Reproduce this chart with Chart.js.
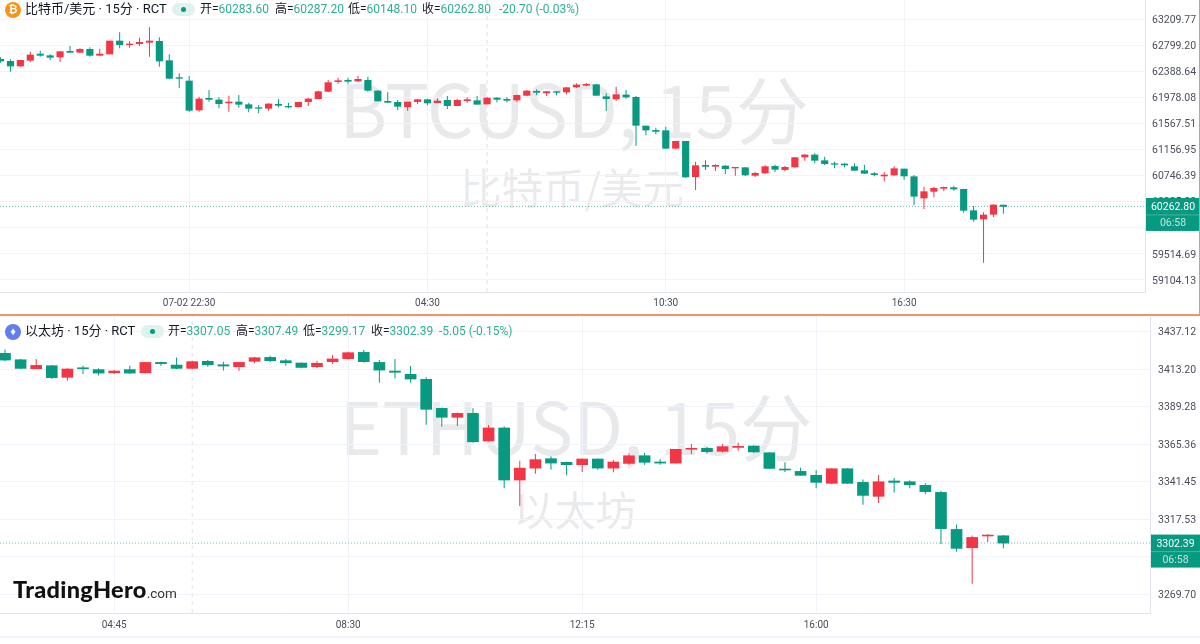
<!DOCTYPE html>
<html>
<head>
<meta charset="utf-8">
<script src="https://cdn.jsdelivr.net/npm/chart.js@4"></script>
<style>
html, body { margin: 0; padding: 0; background: #fff; width: 1200px; height: 644px; overflow: hidden; }
body { position: relative; font-family: Roboto, "Noto Sans CJK SC", sans-serif; color: #131722; }
canvas { position: absolute; left: 0; z-index: 2; }
#btc-chart { top: 0; }
#eth-chart { top: 316px; }
.wm { position: absolute; z-index: 1; color: rgba(120,123,134,0.17); white-space: nowrap; font-family: "Noto Sans CJK SC", sans-serif; transform: translate(-50%, -50%); line-height: 1; }
.head { position: absolute; left: 0; z-index: 3; height: 18px; line-height: 18px; white-space: nowrap; font-family: Roboto, "Noto Sans CJK SC", sans-serif; }
.head span { position: absolute; top: 0; }
.head b { font-weight: 400; color: #2fae97; }
.icon { position: absolute; left: 5px; top: 2px; width: 16px; height: 16px; border-radius: 8px; color: #fff; text-align: center; font: bold 11px/16px Roboto, sans-serif; }
.pill { position: absolute; top: 3px; height: 13px; width: 23px; border-radius: 7px; background: #dff3ee; }
.pill i { position: absolute; left: 9px; top: 4px; width: 5px; height: 5px; border-radius: 3px; background: #089981; }
.sep { position: absolute; z-index: 4; left: 0; width: 1200px; }
#logo { position: absolute; z-index: 3; left: 13px; top: 575px; font: 900 23.5px/28px Lato, sans-serif; color: #111; letter-spacing: 0.3px; }
#logo small { font: 400 13.5px Roboto, sans-serif; color: #333; letter-spacing: 0; }
</style>
</head>
<body>
<div class="wm" style="left:574px;top:106px;font-size:73px">BTCUSD, 15分</div>
<div class="wm" style="left:572px;top:187px;font-size:41.5px">比特币/美元</div>
<div class="wm" style="left:576px;top:424px;font-size:72.5px">ETHUSD, 15分</div>
<div class="wm" style="left:575px;top:508px;font-size:41px">以太坊</div>

<canvas id="btc-chart" width="1200" height="314"></canvas>
<canvas id="eth-chart" width="1200" height="321"></canvas>

<div class="head" style="top:0;font-size:12px">
  <div class="icon" style="background:#f7931a">₿</div>
  <span style="left:25px;font-size:13px">比特币/美元 · 15分 · RCT</span>
  <div class="pill" style="left:172px"><i></i></div>
  <span style="left:200px">开=<b>60283.60</b></span>
  <span style="left:275px">高=<b>60287.20</b></span>
  <span style="left:348px">低=<b>60148.10</b></span>
  <span style="left:422px">收=<b>60262.80</b></span>
  <span style="left:499px"><b>-20.70 (-0.03%)</b></span>
</div>
<div class="head" style="top:322px;font-size:12px">
  <div class="icon" style="background:#627eea">♦</div>
  <span style="left:25px;font-size:13px">以太坊 · 15分 · RCT</span>
  <div class="pill" style="left:141px"><i></i></div>
  <span style="left:168px">开=<b>3307.05</b></span>
  <span style="left:236px">高=<b>3307.49</b></span>
  <span style="left:303px">低=<b>3299.17</b></span>
  <span style="left:371px">收=<b>3302.39</b></span>
  <span style="left:439px"><b>-5.05 (-0.15%)</b></span>
</div>
<div id="logo">TradingHero<small>.com</small></div>

<div class="sep" style="top:314px;height:2px;background:#f4906c"></div>
<div class="sep" style="top:636px;height:2px;background:#f0f3fa"></div>
<div style="position:absolute;z-index:4;left:1199px;top:0;width:1px;height:314px;background:#f4906c"></div>

<script>
const btcOpen = [
  62579,62548,62474,62564,62663,62637,62616,62705,62690,62737,
  62642,62663,62868,62810,62826,62847,62863,62558,62291,62238,
  61781,61965,61939,61892,61907,61865,61818,61808,61871,61839,
  61834,61913,61960,62075,62228,62249,62238,62249,62081,61918,
  61902,61834,61913,61944,61897,61934,61850,61928,61928,61876,
  61970,61949,61939,62012,62075,62049,62070,62065,62144,62170,
  62180,61991,61955,62018,61981,61529,61461,61456,61178,61288,
  60731,60910,60894,60899,60868,60873,60752,60789,60894,60842,
  60884,61041,61073,60983,60936,60931,60889,60826,60779,60742,
  60758,60852,60731,60395,60500,60548,60558,60532,60196,60065,
  60138,60283.6
];
const btcHigh = [
  62611,62579,62569,62700,62716,62658,62711,62789,62753,62768,
  62742,62873,63005,62863,62921,63083,62926,62658,62359,62317,
  61991,62096,61981,62007,62018,61897,61860,61886,61955,61897,
  61907,61976,62086,62254,62291,62291,62322,62306,62091,62060,
  61939,61907,61955,61960,61965,62002,61960,61981,62002,61981,
  61981,61981,62023,62091,62107,62081,62081,62138,62201,62207,
  62191,62044,62149,62096,62002,61535,61503,61519,61293,61293,
  60968,60989,60926,60910,60878,60884,60805,60910,60920,60899,
  61041,61088,61099,61046,60968,60941,60941,60920,60800,60805,
  60894,60857,60758,60574,60574,60574,60584,60542,60269,60170,
  60296,60287.2
];
const btcLow = [
  62527,62385,62464,62537,62621,62569,62537,62684,62674,62621,
  62637,62658,62753,62763,62789,62621,62464,62264,62128,61755,
  61755,61913,61808,61755,61818,61745,61729,61771,61823,61808,
  61823,61844,61949,62060,62196,62196,62228,62070,61918,61892,
  61781,61771,61871,61855,61886,61797,61844,61897,61871,61871,
  61902,61902,61907,62002,62012,62002,62012,62028,62128,62154,
  62007,61766,61923,61960,61220,61382,61398,61167,61167,60716,
  60521,60836,60821,60773,60747,60742,60726,60779,60805,60815,
  60873,60983,60941,60915,60863,60878,60821,60773,60737,60658,
  60742,60684,60285,60222,60406,60500,60511,60164,60023,59377,
  60096,60148.1
];
const btcClose = [
  62553,62474,62564,62648,62642,62611,62700,62690,62737,62642,
  62663,62868,62810,62821,62847,62868,62553,62280,62280,61776,
  61955,61949,61881,61907,61871,61808,61808,61876,61855,61829,
  61902,61955,62070,62212,62243,62233,62264,62091,61923,61902,
  61839,61907,61944,61892,61923,61850,61934,61944,61871,61970,
  61949,61934,62012,62081,62060,62070,62060,62133,62175,62186,
  62012,61960,62023,61986,61540,61466,61445,61178,61288,60726,
  60905,60894,60910,60857,60878,60758,60784,60889,60847,60878,
  61031,61073,60989,60936,60926,60915,60831,60784,60763,60758,
  60857,60742,60422,60495,60548,60563,60537,60201,60059,60128,
  60285,60262.8
];
const btcPriceTicks = [63209.77, 62799.20, 62388.64, 61978.08, 61567.51, 61156.95, 60746.39, 60335.82, 59925.26, 59514.69, 59104.13];
const btcTimeTicks = [19, 43, 67, 91];
const btcTimeLabels = ['07-02 22:30', '04:30', '10:30', '16:30'];

const ethOpen = [
  3423.4,3419.3,3413.6,3415.5,3408.1,3414.2,3413.0,3411.0,3413.0,3411.0,
  3417.6,3415.9,3413.8,3418.3,3416.1,3414.9,3418.3,3420.8,3418.7,3417.2,
  3414.9,3418.1,3420.0,3424.0,3417.6,3412.1,3410.0,3406.8,3388.3,3382.6,
  3385.1,3367.5,3375.8,3342.6,3350.2,3356.2,3353.9,3352.4,3356.0,3350.2,
  3353.2,3358.1,3354.1,3353.4,3362.2,3362.8,3360.9,3363.4,3364.3,3360.0,
  3349.6,3348.1,3345.6,3340.5,3349.8,3341.1,3332.2,3342.0,3341.5,3339.2,
  3334.7,3311.1,3299.4,3306.9,3307.05
];
const ethHigh = [
  3425.9,3419.8,3419.8,3415.9,3413.8,3415.5,3413.8,3412.7,3415.5,3417.8,
  3418.1,3420.8,3418.7,3419.1,3418.1,3418.1,3421.0,3421.9,3419.8,3417.6,
  3418.7,3422.3,3424.4,3425.5,3419.1,3419.8,3415.3,3408.1,3388.9,3385.7,
  3388.3,3377.7,3376.8,3354.9,3359.2,3357.7,3354.3,3356.4,3356.4,3355.3,
  3359.6,3359.8,3355.8,3362.4,3365.6,3363.6,3365.6,3366.4,3364.7,3360.2,
  3353.9,3350.5,3348.8,3350.2,3350.2,3343.0,3345.8,3343.9,3342.4,3340.5,
  3335.8,3314.3,3307.3,3308.2,3307.49
];
const ethLow = [
  3418.5,3413.4,3413.2,3407.0,3405.9,3410.2,3409.3,3410.2,3410.2,3410.6,
  3415.5,3413.4,3413.4,3414.9,3412.5,3412.3,3417.2,3417.8,3415.5,3413.8,
  3414.0,3416.6,3419.5,3417.6,3404.7,3407.4,3404.7,3377.9,3376.8,3377.0,
  3366.4,3367.2,3337.3,3326.0,3346.6,3349.2,3345.6,3347.7,3349.2,3347.5,
  3352.4,3352.4,3352.4,3353.2,3359.2,3359.4,3360.2,3361.3,3359.8,3349.8,
  3347.7,3345.4,3337.3,3340.0,3340.0,3326.9,3327.9,3334.7,3337.3,3333.7,
  3301.8,3296.9,3276.5,3303.1,3299.17
];
const ethClose = [
  3419.1,3413.8,3415.7,3407.9,3413.4,3413.6,3410.8,3412.1,3410.8,3417.6,
  3416.8,3413.8,3418.1,3416.1,3415.3,3417.6,3420.6,3418.7,3417.4,3414.4,
  3417.0,3419.8,3423.8,3418.1,3412.7,3411.3,3407.0,3387.7,3382.6,3385.1,
  3367.0,3375.8,3342.6,3350.2,3355.6,3353.4,3352.4,3356.0,3350.2,3354.1,
  3358.1,3353.9,3353.4,3362.2,3362.8,3360.7,3363.9,3364.1,3360.5,3350.0,
  3349.0,3345.6,3341.1,3349.8,3340.5,3332.8,3341.5,3341.1,3339.6,3335.2,
  3311.6,3299.0,3306.0,3307.5,3302.39
];
const ethPriceTicks = [3437.12, 3413.20, 3389.28, 3365.36, 3341.45, 3317.53, 3293.62, 3269.70];
const ethTimeTicks = [7, 22, 37, 52];
const ethTimeLabels = ['04:45', '08:30', '12:15', '16:00'];

const UP = '#f23645';    // red is up on this chart
const DOWN = '#089981';
const GRID = '#f0f3fa';
const AXIS = '#e0e3eb';
const LABEL = '#4a4e5a';
const FONT = { family: 'Roboto, sans-serif', size: 10.5 };

// price tag at the end of the last close, on top of the axis labels
const priceTag = {
  id: 'priceTag',
  beforeDraw(chart) {
    // labels sit a pixel low on the reference
    if (chart.$labelsMoved) return;
    chart.scales.y.getLabelItems().forEach(item => { item.options.translation[1] += 1; });
    chart.$labelsMoved = true;
  },
  afterDraw(chart, args, opts) {
    const { ctx, scales: { y }, chartArea } = chart;
    const py = y.getPixelForValue(opts.price);
    const left = chartArea.right + 1;
    const w = chart.width - left;
    ctx.save();
    ctx.fillStyle = DOWN;
    ctx.fillRect(left, py - 8.5, w, 33);
    ctx.fillStyle = 'rgba(255,255,255,0.25)';
    ctx.fillRect(left, py + 8, w, 1);
    ctx.font = '10.5px Roboto, sans-serif';
    ctx.textAlign = 'center';
    ctx.textBaseline = 'middle';
    ctx.fillStyle = '#fff';
    ctx.fillText(opts.price.toFixed(2), left + w / 2, py + 1);
    ctx.fillStyle = 'rgba(255,255,255,0.75)';
    ctx.fillText('06:58', left + w / 2, py + 17);
    ctx.restore();
  }
};

function candleChart(id, open, high, low, close, cfg) {
  const colors = close.map((c, i) => (c >= open[i] ? UP : DOWN));
  const last = close[close.length - 1];
  new Chart(document.getElementById(id).getContext('2d'), {
    type: 'bar',
    plugins: [priceTag],
    data: {
      datasets: [
        {
          data: open.map((o, i) => ({ x: i, y: [o, close[i]] })),
          backgroundColor: colors,
          barThickness: cfg.bodyWidth,
          grouped: false,
          borderSkipped: false,
          order: 1
        },
        {
          data: low.map((l, i) => ({ x: i, y: [l, high[i]] })),
          backgroundColor: colors,
          barThickness: 1,
          grouped: false,
          borderSkipped: false,
          inflateAmount: 0,
          order: 2
        },
        {
          type: 'line',
          data: [{ x: cfg.xMin, y: last }, { x: cfg.xMax, y: last }],
          borderColor: 'rgba(8,153,129,0.6)',
          borderWidth: 1,
          borderDash: [1, 2],
          pointRadius: 0,
          order: 3
        },
        {
          type: 'line',
          data: [{ x: cfg.crossAt, y: cfg.yMin }, { x: cfg.crossAt, y: cfg.yMax }],
          borderColor: '#dfe1e8',
          borderWidth: 1,
          borderDash: [4, 4],
          pointRadius: 0,
          order: 4
        }
      ]
    },
    options: {
      responsive: false,
      animation: false,
      plugins: { legend: { display: false }, tooltip: { enabled: false }, priceTag: { price: last } },
      scales: {
        x: {
          type: 'linear',
          offset: false,
          min: cfg.xMin,
          max: cfg.xMax,
          afterFit: s => { s.height = cfg.xHeight; s.paddingLeft = 0; s.paddingRight = 0; },
          afterBuildTicks: s => { s.ticks = cfg.timeTicks.map(value => ({ value })); },
          grid: { color: GRID, drawTicks: false, offset: false },
          border: { color: AXIS },
          ticks: {
            autoSkip: false,
            maxRotation: 0,
            padding: cfg.xPad,
            font: { family: 'Roboto, sans-serif', size: 10 },
            color: LABEL,
            callback: v => cfg.timeLabels[cfg.timeTicks.indexOf(v)]
          }
        },
        y: {
          position: 'right',
          min: cfg.yMin,
          max: cfg.yMax,
          afterFit: s => { s.width = cfg.yWidth; s.paddingTop = 0; s.paddingBottom = 0; },
          afterBuildTicks: s => { s.ticks = cfg.priceTicks.map(value => ({ value })); },
          grid: { color: GRID, drawTicks: false },
          border: { color: AXIS },
          ticks: {
            padding: cfg.yPad,
            font: FONT,
            color: LABEL,
            callback: v => v.toFixed(2)
          }
        }
      }
    }
  });
}

document.addEventListener('DOMContentLoaded', () => {
  candleChart('btc-chart', btcOpen, btcHigh, btcLow, btcClose, {
    bodyWidth: 6.5, xMin: -0.05, xMax: 115.26, yMin: 58914.8, yMax: 63513.8,
    xHeight: 22, yWidth: 55, xPad: 5, yPad: 7, crossAt: 49,
    priceTicks: btcPriceTicks, timeTicks: btcTimeTicks, timeLabels: btcTimeLabels
  });
  candleChart('eth-chart', ethOpen, ethHigh, ethLow, ethClose, {
    bodyWidth: 11, xMin: -0.32, xMax: 73.4, yMin: 3257.8, yMax: 3447.2,
    xHeight: 24, yWidth: 50, xPad: 6, yPad: 8, crossAt: 12,
    priceTicks: ethPriceTicks, timeTicks: ethTimeTicks, timeLabels: ethTimeLabels
  });
});
</script>
</body>
</html>
